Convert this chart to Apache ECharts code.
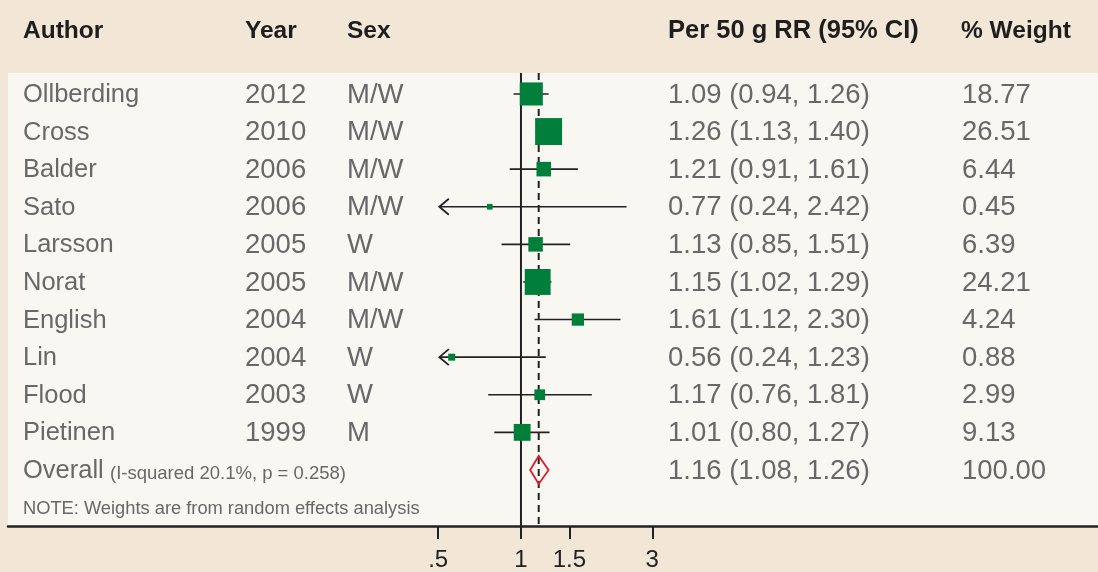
<!DOCTYPE html>
<html><head><meta charset="utf-8">
<script src="https://cdn.jsdelivr.net/npm/echarts@6/dist/echarts.min.js"></script>
<style>html,body{margin:0;padding:0;background:#f2e6d6}#c{width:1098px;height:572px}</style>
</head><body><div id="c"></div>
<script>
// ---- data ----
const authors = ['Ollberding','Cross','Balder','Sato','Larsson','Norat','English','Lin','Flood','Pietinen'];
const years   = [2012,2010,2006,2006,2005,2005,2004,2004,2003,1999];
const sexes   = ['M/W','M/W','M/W','M/W','W','M/W','M/W','W','W','M'];
const rr      = [1.09,1.26,1.21,0.77,1.13,1.15,1.61,0.56,1.17,1.01];
const lower   = [0.94,1.13,0.91,0.24,0.85,1.02,1.12,0.24,0.76,0.80];
const upper   = [1.26,1.40,1.61,2.42,1.51,1.29,2.30,1.23,1.81,1.27];
const weights = [18.77,26.51,6.44,0.45,6.39,24.21,4.24,0.88,2.99,9.13];
const overallRR = [1.16, 1.08, 1.26];   // estimate, lower, upper
const overallWeight = 100.00;
const overallLabel = 'Overall';
const heterogeneity = '(I-squared 20.1%, p = 0.258)';
const noteText = 'NOTE: Weights are from random effects analysis';
const headers = ['Author','Year','Sex','Per 50 g RR (95% CI)','% Weight'];
const tickValues = [0.5, 1, 1.5, 3];
const tickLabels = ['.5','1','1.5','3'];
const displayMin = 0.505;   // lower limit of plotted CI range (arrows beyond)

// ---- chart ----
const ln = Math.log;
const FONT = 'Liberation Sans';
const TXT = '#686868';
const DARK = '#222222';
const colX = [23, 245, 347, 668, 962];
const headSize = [24.5, 24.5, 24.5, 25.5, 24.5];
const NAME = 25.5, NUM = 27.5;
const nStudies = authors.length;
const overallRow = nStudies, noteRow = nStudies + 1;

function txt(x, y, s, size, color, weight) {
  return {type:'text', x:x, y:y, silent:true,
    style:{text:s, fill:color, fontSize:size, fontFamily:FONT, fontWeight:weight||'normal',
      align:'left', verticalAlign:'middle', textAlign:'left', textVerticalAlign:'middle'}};
}
const fmt = v => v.toFixed(2);

const chart = echarts.init(document.getElementById('c'));
chart.setOption({
  backgroundColor:'#f2e6d6',
  animation:false,
  grid:{left:8, right:0, top:73, bottom:45, show:true, backgroundColor:'#f9f7f2', borderWidth:0},
  xAxis:{type:'value', min:-4.293, max:4.829,
    axisLine:{show:true, onZero:false, lineStyle:{color:DARK, width:2.5}},
    axisTick:{show:true, customValues:tickValues.map(ln), length:13, lineStyle:{color:DARK, width:2}},
    axisLabel:{customValues:tickValues.map(ln), color:DARK, fontSize:24, fontFamily:FONT, margin:22,
      formatter:v => { for (let i=0;i<tickValues.length;i++) if (Math.abs(ln(tickValues[i])-v)<1e-6) return tickLabels[i]; return ''; }},
    splitLine:{show:false}},
  yAxis:{type:'value', inverse:true, min:-0.557, max:11.49, show:false},
  graphic:headers.map((h,i)=>txt(colX[i] + (i===4?-1:0), 31, h, headSize[i], '#1e1e1e', 'bold')),
  series:[
    { // reference lines (null effect at 1, overall estimate dashed)
      type:'custom', silent:true, z:1,
      data:[[ln(1)],[ln(overallRR[0])]],
      encode:{x:0},
      renderItem:(params, api)=>{
        const cs = params.coordSys;
        const x = api.coord([api.value(0), 0])[0];
        const dashed = params.dataIndex===1;
        return {type:'line', shape:{x1:x, y1:cs.y, x2:x, y2:cs.y+cs.height},
          style:{stroke:DARK, lineWidth:2, lineDash:dashed?[7,5]:null}};
      }
    },
    { // confidence intervals
      type:'custom', silent:true, z:2,
      data:authors.map((a,i)=>[ln(lower[i]), ln(upper[i]), i]),
      encode:{x:[0,1], y:2},
      renderItem:(params, api)=>{
        const lo = api.value(0), hi = api.value(1), row = api.value(2);
        const cmin = ln(displayMin);
        const p1 = api.coord([Math.max(lo, cmin), row]);
        const p2 = api.coord([hi, row]);
        const ch = [{type:'line', shape:{x1:p1[0], y1:p1[1], x2:p2[0], y2:p2[1]}, style:{stroke:DARK, lineWidth:1.6}}];
        if (lo < cmin) {
          ch.push({type:'polyline', shape:{points:[[p1[0]+9.5,p1[1]-8],[p1[0],p1[1]],[p1[0]+9.5,p1[1]+8]]},
            style:{stroke:DARK, lineWidth:1.8, fill:null}});
        }
        return {type:'group', children:ch};
      }
    },
    { // study estimates
      type:'scatter', silent:true, z:3, symbol:'rect',
      data:authors.map((a,i)=>[ln(rr[i]), i, weights[i]]),
      symbolSize:v => 2.5 + 4.75*Math.sqrt(v[2]),
      itemStyle:{color:'#007f3b', opacity:1}
    },
    { // overall diamond
      type:'custom', silent:true, z:4,
      data:[[ln(overallRR[1]), ln(overallRR[0]), ln(overallRR[2]), overallRow]],
      encode:{x:[0,1,2], y:3},
      renderItem:(params, api)=>{
        const row = api.value(3);
        const a = api.coord([api.value(0), row]), m = api.coord([api.value(1), row]), b = api.coord([api.value(2), row]);
        return {type:'polygon', shape:{points:[[a[0],a[1]],[m[0],m[1]-14],[b[0],b[1]],[m[0],m[1]+14]]},
          style:{fill:'none', stroke:'#d81e2c', lineWidth:1.8}};
      }
    },
    { // table text
      type:'custom', silent:true, z:5,
      data:authors.map((a,i)=>[0,i]).concat([[0,overallRow],[0,noteRow]]),
      encode:{x:0, y:1},
      renderItem:(params, api)=>{
        const i = params.dataIndex;
        const y = api.coord([0, api.value(1)])[1] + 1;
        if (i < nStudies) {
          return {type:'group', children:[
            txt(colX[0], y, authors[i], NAME, TXT),
            txt(colX[1], y, String(years[i]), NUM, TXT),
            txt(colX[2], y, sexes[i], NUM, TXT),
            txt(colX[3], y, fmt(rr[i])+' ('+fmt(lower[i])+', '+fmt(upper[i])+')', NUM, TXT),
            txt(colX[4], y, fmt(weights[i]), NUM, TXT)
          ]};
        } else if (i === nStudies) {
          return {type:'group', children:[
            txt(colX[0], y, overallLabel, NAME, TXT),
            txt(110, y+2.5, heterogeneity, 18.5, TXT),
            txt(colX[3], y, fmt(overallRR[0])+' ('+fmt(overallRR[1])+', '+fmt(overallRR[2])+')', NUM, TXT),
            txt(colX[4], y, fmt(overallWeight), NUM, TXT)
          ]};
        }
        return txt(colX[0], y, noteText, 18.3, TXT);
      }
    }
  ]
});
</script></body></html>
